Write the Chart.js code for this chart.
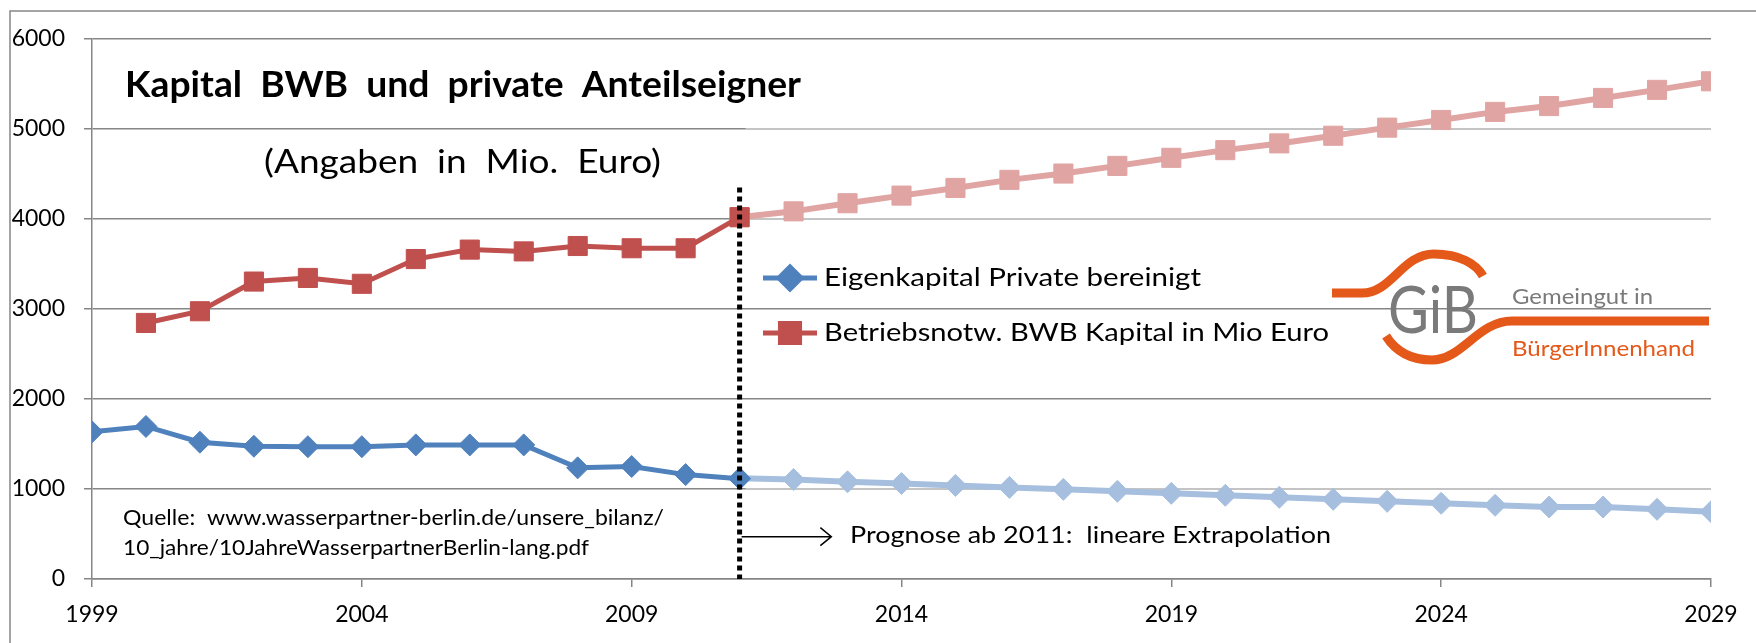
<!DOCTYPE html>
<html>
<head>
<meta charset="utf-8">
<script src="https://cdn.jsdelivr.net/npm/chart.js@4/dist/chart.umd.min.js"></script>
<style>
  html, body { margin: 0; padding: 0; background: #fff; }
  canvas { display: block; }
</style>
</head>
<body>
<canvas id="chart" width="1756" height="643"></canvas>
<script>
// values (Mio. Euro)
const histYears = [1999, 2000, 2001, 2002, 2003, 2004, 2005, 2006, 2007, 2008, 2009, 2010, 2011];
const privateHist = [1635, 1695, 1520, 1475, 1470, 1470, 1490, 1490, 1490, 1235, 1250, 1160, 1115];
const bwbHist = [null, 2845, 2975, 3305, 3345, 3280, 3555, 3660, 3640, 3700, 3675, 3675, 4020];

// Prognose ab 2011
const progYears = [2011, 2012, 2013, 2014, 2015, 2016, 2017, 2018, 2019, 2020, 2021, 2022, 2023, 2024, 2025, 2026, 2027, 2028, 2029];
const privateProg = [1120, 1105, 1080, 1062, 1040, 1018, 996, 974, 952, 930, 907, 885, 863, 841, 819, 800, 800, 774, 748];
const bwbProg = [4020, 4085, 4175, 4260, 4345, 4435, 4505, 4590, 4680, 4765, 4840, 4925, 5015, 5100, 5190, 5255, 5345, 5435, 5530];

const legendLabels = ["Eigenkapital Private bereinigt", "Betriebsnotw. BWB Kapital in Mio Euro"];
const yTicks = [0, 1000, 2000, 3000, 4000, 5000, 6000];
const xTickStep = 5;
// grid lines that look paler in the forecast part
const paleGrid = [1000, 4000, 5000];

const FONT = "Lato, 'Open Sans', sans-serif";
const blue = "#4F81BD", red = "#C0504D";
const lightBlue = "#A6BFDE", lightRed = "#E0A4A3";
const gridColor = "#868686";
const orange = "#E4591A";

function pts(xs, ys) {
  return xs.map((x, i) => ({ x: x, y: ys[i] })).filter(p => p.y !== null);
}

function line(label, data, color, style, radius, width) {
  return {
    label: label,
    data: data,
    borderColor: color,
    backgroundColor: color,
    borderWidth: width,
    pointStyle: style,
    pointRadius: radius,
    pointBorderWidth: 1,
    pointBackgroundColor: color,
    pointBorderColor: color,
    tension: 0
  };
}

// draw text stretched to a given width (the original font is Calibri)
function fitText(ctx, text, x, y, width) {
  const w = ctx.measureText(text).width;
  ctx.save();
  ctx.translate(x, y);
  ctx.scale(width / w, 1);
  ctx.fillText(text, 0, 0);
  ctx.restore();
}

// frame, texts, dotted marker line, arrow, legend and logo
const extras = {
  id: "extras",
  beforeDraw(chart) {
    const ctx = chart.ctx;
    ctx.save();
    ctx.strokeStyle = gridColor;
    ctx.lineWidth = 1.5;
    ctx.beginPath();
    ctx.moveTo(10, 700);
    ctx.lineTo(10, 11);
    ctx.lineTo(1756, 11);
    ctx.stroke();
    ctx.restore();
  },
  beforeDatasetsDraw(chart) {
    const ctx = chart.ctx;
    const x = chart.scales.x, y = chart.scales.y;
    ctx.save();
    ctx.strokeStyle = "#c4c4c4";
    ctx.lineWidth = 2;
    paleGrid.forEach(v => {
      const py = y.getPixelForValue(v);
      ctx.beginPath();
      ctx.moveTo(x.getPixelForValue(2011) + 6, py);
      ctx.lineTo(chart.chartArea.right, py);
      ctx.stroke();
    });
    ctx.restore();
  },
  afterDatasetsDraw(chart) {
    const ctx = chart.ctx;
    const x = chart.scales.x, y = chart.scales.y;
    ctx.save();

    // dotted line at 2011
    const x11 = x.getPixelForValue(2011);
    ctx.strokeStyle = "#000";
    ctx.lineWidth = 5;
    ctx.setLineDash([5, 4]);
    ctx.beginPath();
    ctx.moveTo(x11, y.getPixelForValue(4350));
    ctx.lineTo(x11, y.getPixelForValue(0));
    ctx.stroke();
    ctx.setLineDash([]);

    // arrow
    const ay = y.getPixelForValue(470);
    const ax2 = x.getPixelForValue(2012.7);
    ctx.lineWidth = 1.5;
    ctx.beginPath();
    ctx.moveTo(x11 + 2, ay);
    ctx.lineTo(ax2, ay);
    ctx.moveTo(ax2 - 11, ay - 9);
    ctx.lineTo(ax2, ay);
    ctx.lineTo(ax2 - 11, ay + 9);
    ctx.stroke();

    ctx.fillStyle = "#000";
    ctx.textBaseline = "alphabetic";
    ctx.textAlign = "left";
    ctx.font = "bold 36px " + FONT;
    fitText(ctx, "Kapital  BWB  und  private  Anteilseigner", 125, 97, 676);
    ctx.font = "32px " + FONT;
    fitText(ctx, "(Angaben  in  Mio.  Euro)", 264, 173, 397);
    ctx.font = "21px " + FONT;
    fitText(ctx, "Quelle:  www.wasserpartner-berlin.de/unsere_bilanz/", 123, 525, 541);
    fitText(ctx, "10_jahre/10JahreWasserpartnerBerlin-lang.pdf", 123, 555, 466);
    ctx.font = "24px " + FONT;
    fitText(ctx, "Prognose ab 2011:  lineare Extrapolation", 850, 543, 481);

    // legend
    const rows = [278, 333];
    const widths = [377, 505];
    chart.data.datasets.slice(0, 2).forEach((ds, i) => {
      const ly = rows[i];
      ctx.strokeStyle = ds.borderColor;
      ctx.lineWidth = 5;
      ctx.beginPath();
      ctx.moveTo(763, ly);
      ctx.lineTo(817, ly);
      ctx.stroke();
      ctx.fillStyle = ds.borderColor;
      Chart.helpers.drawPoint(ctx, { pointStyle: ds.pointStyle, radius: ds.pointRadius, borderWidth: 1 }, 790, ly);
      ctx.fillStyle = "#000";
      ctx.font = "25px " + FONT;
      ctx.textBaseline = "middle";
      fitText(ctx, legendLabels[i], 824, ly, widths[i]);
    });

    // GiB logo
    ctx.strokeStyle = orange;
    ctx.lineCap = "butt";
    ctx.lineWidth = 9;
    ctx.beginPath();
    ctx.moveTo(1332, 293);
    ctx.lineTo(1362, 293);
    ctx.bezierCurveTo(1392, 293, 1402, 254, 1434, 254);
    ctx.bezierCurveTo(1460, 254, 1476, 264, 1483, 276);
    ctx.stroke();
    ctx.beginPath();
    ctx.moveTo(1386, 336);
    ctx.bezierCurveTo(1398, 355, 1416, 360, 1432, 360);
    ctx.bezierCurveTo(1462, 360, 1478, 321, 1512, 321);
    ctx.lineTo(1709, 321);
    ctx.stroke();
    ctx.textBaseline = "alphabetic";
    ctx.fillStyle = "#7a7a7a";
    ctx.font = "66px " + FONT;
    fitText(ctx, "GiB", 1388, 333, 90);
    ctx.font = "21px " + FONT;
    fitText(ctx, "Gemeingut in", 1512, 304, 141);
    ctx.fillStyle = orange;
    ctx.font = "22px " + FONT;
    fitText(ctx, "BürgerInnenhand", 1512, 356, 183);

    ctx.restore();
  }
};

new Chart(document.getElementById("chart"), {
  type: "line",
  data: {
    datasets: [
      line(legendLabels[0], pts(histYears, privateHist), blue, "rectRot", 11, 5),
      line(legendLabels[1], pts(histYears, bwbHist), red, "rect", 13.5, 5),
      line("Prognose Private", pts(progYears, privateProg), lightBlue, "rectRot", 11, 6),
      line("Prognose BWB", pts(progYears, bwbProg), lightRed, "rect", 13.5, 6)
    ]
  },
  options: {
    responsive: false,
    animation: false,
    events: [],
    layout: { padding: { left: 0, top: 39, right: 45, bottom: 0 } },
    plugins: { legend: { display: false }, tooltip: { enabled: false } },
    scales: {
      x: {
        type: "linear",
        min: histYears[0],
        max: progYears[progYears.length - 1],
        afterFit(s) { s.height = 64; },
        border: { color: gridColor, width: 1.5 },
        grid: { drawOnChartArea: false, drawTicks: true, tickLength: 8, color: gridColor, lineWidth: 1.5 },
        ticks: {
          stepSize: xTickStep,
          padding: 14,
          color: "#000",
          font: { family: FONT, size: 23 },
          maxRotation: 0,
          callback: v => String(v)
        }
      },
      y: {
        min: yTicks[0],
        max: yTicks[yTicks.length - 1],
        afterFit(s) { s.width = 92; },
        border: { color: gridColor, width: 1.5 },
        grid: { color: gridColor, lineWidth: 1.5, tickLength: 8 },
        ticks: {
          stepSize: 1000,
          padding: 19,
          color: "#000",
          font: { family: FONT, size: 23 },
          callback: v => String(v)
        }
      }
    }
  },
  plugins: [extras]
});
</script>
</body>
</html>
